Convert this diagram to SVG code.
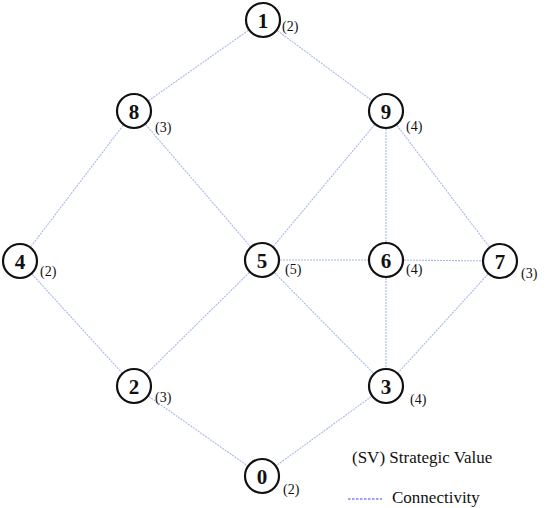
<svg xmlns="http://www.w3.org/2000/svg" width="547" height="508" viewBox="0 0 547 508">
<rect width="547" height="508" fill="#fff"/>
<g id="connectors" stroke="#a8b8ea" stroke-width="1.1" stroke-dasharray="2 1" fill="none">
<line x1="263" y1="20" x2="134" y2="111"/>
<line x1="263" y1="20" x2="386" y2="111"/>
<line x1="134" y1="111" x2="20" y2="261"/>
<line x1="134" y1="111" x2="262" y2="260"/>
<line x1="386" y1="111" x2="262" y2="260"/>
<line x1="386" y1="111" x2="386" y2="260"/>
<line x1="386" y1="111" x2="500" y2="261"/>
<line x1="20" y1="261" x2="134" y2="386"/>
<line x1="262" y1="260" x2="386" y2="260"/>
<line x1="386" y1="260" x2="500" y2="261"/>
<line x1="262" y1="260" x2="134" y2="386"/>
<line x1="262" y1="260" x2="386" y2="386"/>
<line x1="386" y1="260" x2="386" y2="386"/>
<line x1="500" y1="261" x2="386" y2="386"/>
<line x1="134" y1="386" x2="262" y2="476"/>
<line x1="386" y1="386" x2="262" y2="476"/>
</g>
<g id="nodes" fill="#111">
<g id="node1"><circle cx="263" cy="20" r="17" fill="#fff" stroke="#111" stroke-width="2.2"/><text font-family="Liberation Serif" font-weight="bold" font-size="21" text-anchor="middle" x="263" y="28">1</text><text font-family="Liberation Serif" font-size="14" x="282" y="31">(2)</text></g>
<g id="node8"><circle cx="134" cy="111" r="17" fill="#fff" stroke="#111" stroke-width="2.2"/><text font-family="Liberation Serif" font-weight="bold" font-size="21" text-anchor="middle" x="134" y="119">8</text><text font-family="Liberation Serif" font-size="14" x="155" y="132">(3)</text></g>
<g id="node9"><circle cx="386" cy="111" r="17" fill="#fff" stroke="#111" stroke-width="2.2"/><text font-family="Liberation Serif" font-weight="bold" font-size="21" text-anchor="middle" x="386" y="119">9</text><text font-family="Liberation Serif" font-size="14" x="406" y="131">(4)</text></g>
<g id="node4"><circle cx="20" cy="261" r="17" fill="#fff" stroke="#111" stroke-width="2.2"/><text font-family="Liberation Serif" font-weight="bold" font-size="21" text-anchor="middle" x="20" y="269">4</text><text font-family="Liberation Serif" font-size="14" x="40" y="276">(2)</text></g>
<g id="node5"><circle cx="262" cy="260" r="17" fill="#fff" stroke="#111" stroke-width="2.2"/><text font-family="Liberation Serif" font-weight="bold" font-size="21" text-anchor="middle" x="262" y="268">5</text><text font-family="Liberation Serif" font-size="14" x="285" y="274">(5)</text></g>
<g id="node6"><circle cx="386" cy="260" r="17" fill="#fff" stroke="#111" stroke-width="2.2"/><text font-family="Liberation Serif" font-weight="bold" font-size="21" text-anchor="middle" x="386" y="268">6</text><text font-family="Liberation Serif" font-size="14" x="406" y="274">(4)</text></g>
<g id="node7"><circle cx="500" cy="261" r="17" fill="#fff" stroke="#111" stroke-width="2.2"/><text font-family="Liberation Serif" font-weight="bold" font-size="21" text-anchor="middle" x="500" y="269">7</text><text font-family="Liberation Serif" font-size="14" x="521" y="278">(3)</text></g>
<g id="node2"><circle cx="134" cy="386" r="17" fill="#fff" stroke="#111" stroke-width="2.2"/><text font-family="Liberation Serif" font-weight="bold" font-size="21" text-anchor="middle" x="134" y="394">2</text><text font-family="Liberation Serif" font-size="14" x="155" y="402">(3)</text></g>
<g id="node3"><circle cx="386" cy="386" r="17" fill="#fff" stroke="#111" stroke-width="2.2"/><text font-family="Liberation Serif" font-weight="bold" font-size="21" text-anchor="middle" x="386" y="394">3</text><text font-family="Liberation Serif" font-size="14" x="410" y="404">(4)</text></g>
<g id="node0"><circle cx="262" cy="476" r="17" fill="#fff" stroke="#111" stroke-width="2.2"/><text font-family="Liberation Serif" font-weight="bold" font-size="21" text-anchor="middle" x="262" y="484">0</text><text font-family="Liberation Serif" font-size="14" x="283" y="494">(2)</text></g>
</g>
<g id="legend" fill="#111">
<text font-family="Liberation Serif" font-size="17" x="352" y="463">(SV) Strategic Value</text>
<line x1="348" y1="499" x2="382" y2="499" stroke="#3050e0" stroke-width="1.2" stroke-dasharray="2.5 1.5"/>
<text font-family="Liberation Serif" font-size="17" x="392" y="503">Connectivity</text>
</g>
</svg>
